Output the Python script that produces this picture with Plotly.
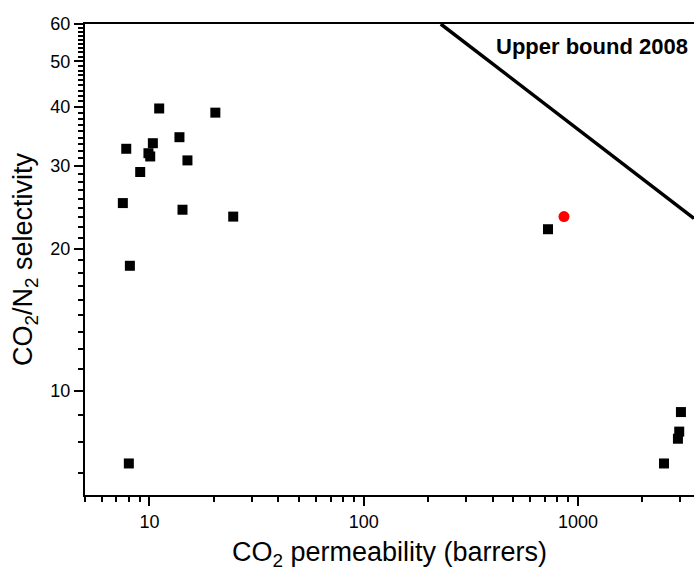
import math
import plotly.graph_objects as go

# Literature membranes (CO2 permeability in barrers, CO2/N2 selectivity)
perm_lit = [11.1, 20.3, 13.8, 7.79, 10.37, 9.89, 10.08, 15.04, 9.05, 7.51, 14.26,
            24.6, 8.10, 8.01, 725, 3027, 2972, 2931, 2523]
sel_lit = [39.7, 38.9, 34.5, 32.6, 33.5, 31.9, 31.4, 30.8, 29.1, 25.0, 24.2,
           23.4, 18.4, 7.0, 22.0, 9.0, 8.18, 7.9, 7.0]

# This work
perm_this = [861]
sel_this = [23.4]

# Robeson upper bound 2008 (end points)
bound_perm = [229, 3480]
bound_sel = [60, 23.2]
bound_label = "Upper bound 2008"

y_major = [10, 20, 30, 40, 50, 60]
x_major = [10, 100, 1000]

FONT = "Arial, Liberation Sans, sans-serif"

# minor tick positions (Origin-style: 8 linear minors between y majors)
y_minor = []
for lo in [0, 10, 20, 30, 40, 50]:
    for k in range(1, 9):
        v = lo + k * 10 / 9
        if v >= 6:
            y_minor.append(v)
x_minor = [m * d for d in [1, 10, 100, 1000] for m in range(2, 10)]
x_minor = [v for v in x_minor if 5 <= v <= 3500 and v not in x_major]

fig = go.Figure()
fig.add_trace(go.Scatter(x=bound_perm, y=bound_sel, mode="lines",
                         line=dict(color="black", width=3.5), showlegend=False,
                         cliponaxis=True))
fig.add_trace(go.Scatter(x=perm_lit, y=sel_lit, mode="markers",
                         marker=dict(symbol="square", size=10, color="black",
                                     line=dict(width=0)), showlegend=False))
fig.add_trace(go.Scatter(x=perm_this, y=sel_this, mode="markers",
                         marker=dict(symbol="circle", size=11, color="#ff0000",
                                     line=dict(width=0)), showlegend=False))

fig.add_annotation(text="<b>" + bound_label + "</b>", xref="paper", yref="paper",
                   x=0.993, y=0.953, xanchor="right", yanchor="middle",
                   showarrow=False, font=dict(family=FONT, size=22, color="black"))

fig.update_layout(
    width=694, height=574,
    margin=dict(l=85, r=0, t=24, b=79),
    plot_bgcolor="white", paper_bgcolor="white",
    font=dict(family=FONT, color="black"),
)
fig.update_xaxes(
    type="log", range=[math.log10(5), 3.542],
    showgrid=False, zeroline=False,
    showline=True, linecolor="black", linewidth=2, mirror=True,
    ticks="outside", tickvals=x_major, ticktext=[str(v) for v in x_major],
    ticklen=9, tickwidth=2, tickcolor="black",
    tickfont=dict(family=FONT, size=18, color="black"),
    minor=dict(tickmode="array", tickvals=x_minor, ticks="outside",
               ticklen=5, tickwidth=2, tickcolor="black"),
    title=dict(text="CO<sub>2</sub> permeability (barrers)",
               font=dict(family=FONT, size=27, color="black"), standoff=12),
)
fig.update_yaxes(
    type="log", range=[math.log10(6), math.log10(60)],
    showgrid=False, zeroline=False,
    showline=True, linecolor="black", linewidth=2, mirror=False,
    ticks="outside", tickvals=y_major, ticktext=[str(v) for v in y_major],
    ticklen=9, tickwidth=2, tickcolor="black",
    tickfont=dict(family=FONT, size=18, color="black"),
    minor=dict(tickmode="array", tickvals=y_minor, ticks="outside",
               ticklen=5, tickwidth=1.5, tickcolor="black"),
    title=dict(text="CO<sub>2</sub>/N<sub>2</sub> selectivity",
               font=dict(family=FONT, size=27, color="black"), standoff=10),
)

fig.write_html(
    "out.html",
    config={"displayModeBar": False},
    post_script="document.body.style.margin='0';document.body.style.overflow='hidden';",
)
